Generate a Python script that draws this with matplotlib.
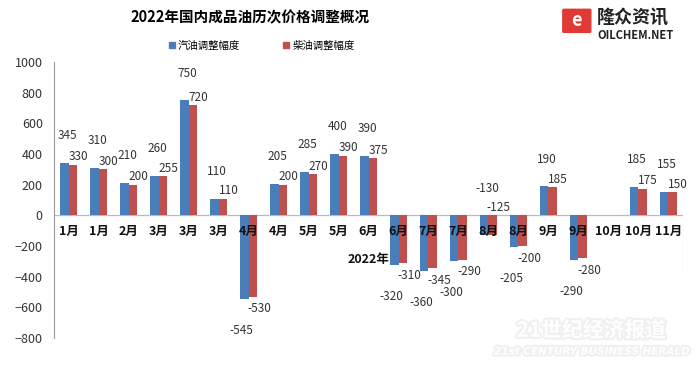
import numpy as np
import matplotlib
matplotlib.use("Agg")
import matplotlib.pyplot as plt
from matplotlib.patches import FancyBboxPatch
import matplotlib.patheffects as pe

plt.rcParams['font.family'] = ['Noto Sans CJK SC', 'DejaVu Sans']

# data
months = ['1月', '1月', '2月', '3月', '3月', '3月', '4月', '4月', '5月', '5月', '6月',
          '6月', '7月', '7月', '8月', '8月', '9月', '9月', '10月', '10月', '11月']
gasoline = [345, 310, 210, 260, 750, 110, -545, 205, 285, 400, 390,
            -320, -360, -300, -130, -205, 190, -290, np.nan, 185, 155]
diesel = [330, 300, 200, 255, 720, 110, -530, 200, 270, 390, 375,
          -310, -345, -290, -125, -200, 185, -280, np.nan, 175, 150]
year_label = '2022年'
title = '2022年国内成品油历次价格调整概况'
series_names = ['汽油调整幅度', '柴油调整幅度']
colors = ['#4a7ebb', '#c0504d']

fig = plt.figure(figsize=(7, 3.72), dpi=100)
ax = fig.add_axes([0.077, 0.091, 0.899, 0.742])

x = np.arange(len(months))
w = 0.28
ax.bar(x - w / 2, gasoline, w, color=colors[0], zorder=2, label=series_names[0])
ax.bar(x + w / 2, diesel, w, color=colors[1], zorder=2, label=series_names[1])

# data labels (offsets in points); small cuts get their label above the axis
lab_kw = dict(fontsize=8.5, color='#333333', ha='center', textcoords='offset points', zorder=4)
for i, (g, d) in enumerate(zip(gasoline, diesel)):
    if np.isnan(g):
        continue
    if g >= 0 or g > -150:
        ax.annotate(f'{g:g}', (i - w / 2, max(g, 0)), xytext=(2, 15), va='bottom', **lab_kw)
    else:
        ax.annotate(f'{g:g}', (i - w / 2, g), xytext=(-2, -18), va='top', **lab_kw)
    if d >= 0 or d > -150:
        ax.annotate(f'{d:g}', (i + w / 2, max(d, 0)), xytext=(4, 1), va='bottom', **lab_kw)
    else:
        ax.annotate(f'{d:g}', (i + w / 2, d), xytext=(5, -4), va='top', **lab_kw)

# category labels along zero line
for i, m in enumerate(months):
    ax.annotate(m, (i, 0), xytext=(0, -7), textcoords='offset points', ha='center',
                va='top', fontsize=9, fontweight='bold', color='#111111', zorder=5)
ax.annotate(year_label, (10, 0), xytext=(0, -27), textcoords='offset points', ha='center',
            va='top', fontsize=9, fontweight='bold', color='#111111', zorder=5)
ax.plot([20.5, 20.5], [0, -360], color='#bbbbbb', lw=0.8, zorder=1)

ax.axhline(0, color='#bbbbbb', lw=0.9, zorder=1)
ax.set_xlim(-0.5, 20.5)
ax.set_ylim(-800, 1000)
ax.set_yticks(np.arange(-800, 1001, 200))
ax.tick_params(axis='y', length=0, pad=8, labelsize=9, labelcolor='#333333')
ax.set_xticks([])
for s in ['top', 'right', 'bottom']:
    ax.spines[s].set_visible(False)
ax.spines['left'].set_color('#999999')
ax.spines['left'].set_linewidth(0.8)

fig.text(0.357, 0.952, title, ha='center', va='center', fontsize=10.5, fontweight='bold')

h1 = plt.Line2D([], [], marker='s', ls='', color=colors[0], markersize=4.5)
h2 = plt.Line2D([], [], marker='s', ls='', color=colors[1], markersize=4.5)
fig.legend([h1, h2], series_names, loc='center', bbox_to_anchor=(0.373, 0.876), ncol=2,
           frameon=False, fontsize=7.5, handletextpad=0.2, columnspacing=4.0, handlelength=0.8)

# logo
logo = FancyBboxPatch((0.806, 0.915), 0.036, 0.058, boxstyle='round,pad=0.002',
                      transform=fig.transFigure, color='#e03a34', zorder=3)
fig.patches.append(logo)
fig.text(0.824, 0.944, 'e', ha='center', va='center', fontsize=13, fontweight='bold',
         color='white')
fig.text(0.853, 0.955, '隆众资讯', ha='left', va='center', fontsize=13, fontweight='bold',
         color='#222222')
fig.text(0.853, 0.905, 'OILCHEM.NET', ha='left', va='center', fontsize=8, fontweight='bold',
         color='#222222')

# watermark
glow = [pe.withStroke(linewidth=3, foreground='#f0f0f0')]
fig.text(0.845, 0.112, '21世纪经济报道', ha='center', va='center', fontsize=15,
         fontweight='bold', color='white', path_effects=glow)
fig.text(0.845, 0.055, '21st CENTURY BUSINESS HERALD', ha='center', va='center',
         fontsize=7.5, style='italic', fontweight='bold', color='white', path_effects=glow,
         family=['DejaVu Sans'])

fig.savefig('out.png', dpi=100)
